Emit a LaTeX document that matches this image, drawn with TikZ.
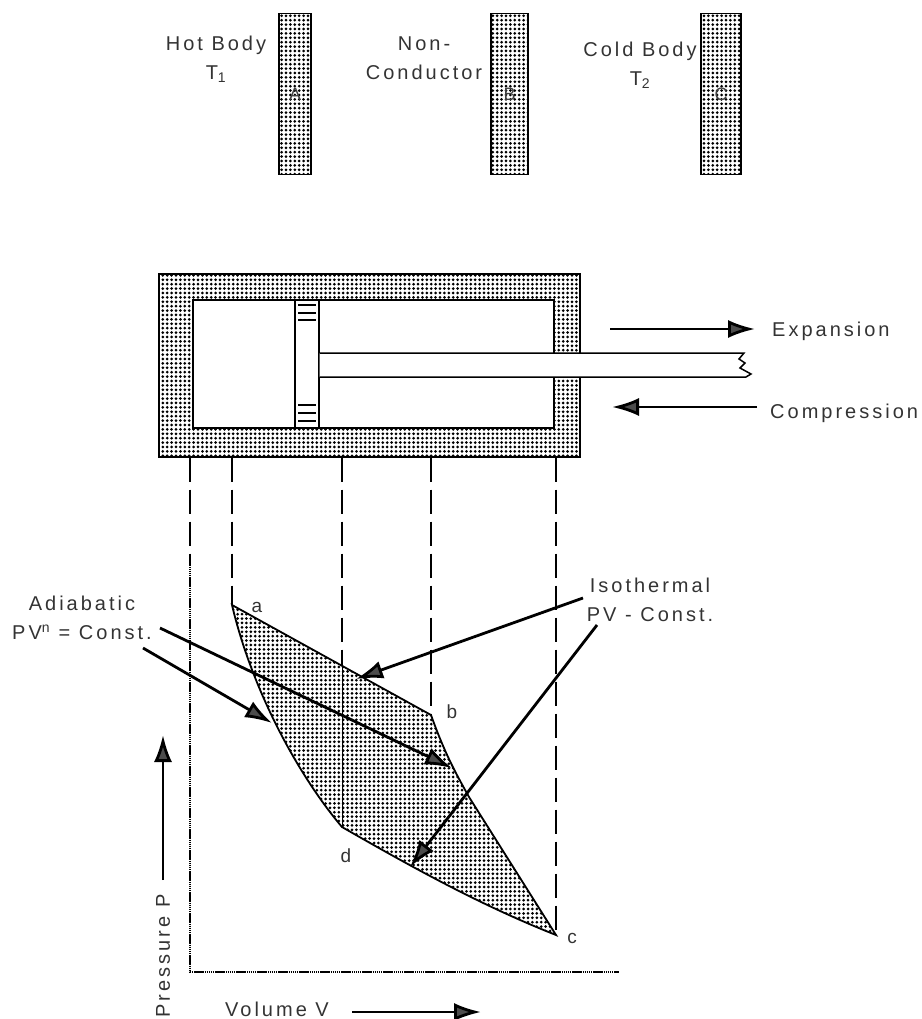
\documentclass[tikz,border=0pt]{standalone}
\usepackage{fontspec}
\setmainfont{Liberation Sans}[LetterSpace=15]
\usetikzlibrary{arrows.meta,patterns,positioning,calc}
\pgfdeclarepatternformonly{bodydots}{\pgfqpoint{-2.2pt}{-2.2pt}}{\pgfqpoint{2.2pt}{2.2pt}}{\pgfqpoint{4.4pt}{4.4pt}}{\pgfpathcircle{\pgfpointorigin}{1.5pt}\pgfusepath{fill}}
\tikzset{
bar/.style = {draw, line width=1.3pt, pattern=bodydots, rectangle, minimum height=161pt, inner sep=0pt, font=\fontsize{18}{20}\selectfont, text=black!75},
wall/.style = {draw, line width=1.3pt, rectangle, inner sep=0pt},
txt/.style = {align=center, inner sep=0pt, text=black!80, font=\fontsize{20}{29}\selectfont},
pt/.style = {inner sep=0pt, text=black!80, font=\fontsize{19}{20}\selectfont},
stroke/.style = {->, line width=2.8pt},
guide/.style = {line width=1.7pt, dash pattern=on 24pt off 8pt},
axis/.style = {line width=1.9pt, dash pattern=on 1.5pt off 0.6pt}
}
\begin{document}
\begin{tikzpicture}[x=1pt,y=-1pt,>={Latex[length=27pt,width=18pt,fill=black!70]}]
	\useasboundingbox (0,0) rectangle (921,1019);
	% bodies
	\node[bar, minimum width=32pt] (A) at (295,94) {A};
	\node[bar, minimum width=37pt] (B) at (509.5,94) {B};
	\node[bar, minimum width=40pt] (C) at (721,94) {C};
	\node[txt] (hot) at (216,59) {Hot Body\\T\textsubscript{1}};
	\node[txt] (non) at (424,58) {Non-\\Conductor};
	\node[txt] (cold) at (640,65) {Cold Body\\T\textsubscript{2}};
	% cylinder
	\node[wall, pattern=bodydots, minimum width=421pt, minimum height=183pt] (cyl) at (369.5,365.5) {};
	\node[wall, fill=white, minimum width=361pt, minimum height=128pt] (bore) at (373.5,364) {};
	\node[wall, fill=white, minimum width=24pt, minimum height=128pt] (piston) at (307,364) {};
	\foreach \y in {305,313,320,405,413,421}
		\draw[line width=1.2pt] (298,\y) -- (316,\y);
	\coordinate (rodt) at (piston.east |- 0,353);
	\coordinate (rodb) at (piston.east |- 0,377);
	\coordinate (rodte) at (744,353);
	\coordinate (rodbe) at (746,377);
	\fill[white] (rodt) -- (rodte) -- (rodbe) -- (rodb) -- cycle;
	\draw[line width=1.5pt] (rodt) -- (rodte) -- (739,359) -- (745,363) -- (740,368) -- (751,374) -- (rodbe) -- (rodb);
	% strokes
	\coordinate (exps) at (610,329);
	\coordinate (expe) at (755,329);
	\coordinate (coms) at (757,407);
	\coordinate (come) at (612,407);
	\draw[stroke] (exps) -- (expe);
	\draw[stroke] (coms) -- (come);
	\node[txt, anchor=west] (exp) at (772,331) {Expansion};
	\node[txt, anchor=west] (com) at (770,413) {Compression};
	% cycle
	\coordinate (a) at (232,605);
	\coordinate (b) at (431,715);
	\coordinate (c) at (556,935);
	\coordinate (d) at (342,827);
	\coordinate (kink) at (469,797);
	\coordinate (dtop) at (342,666);
	\draw[line width=1.8pt, pattern=bodydots] (a) -- (b) .. controls (446,757) and (458,777) .. (kink) -- (c) .. controls (480,905) and (410,866) .. (d) .. controls (298,775) and (252,690) .. (a) -- cycle;
	% guides
	\draw[guide] (cyl.south -| a) -- (a);
	\draw[guide] (cyl.south -| b) -- (b);
	\draw[guide] (cyl.south -| d) -- (dtop);
	\draw[line width=1pt] (dtop) -- (d);
	\draw[guide] (cyl.south -| c) -- (c);
	% axes
	\coordinate (org) at (190,972);
	\coordinate (xend) at (619,972);
	\coordinate (ybrk) at (190,556);
	\draw[guide] (cyl.south -| org) -- (ybrk);
	\draw[axis] (ybrk) -- (org) -- (xend);
	\node[txt, rotate=90] (pres) at (163,956) {Pressure P};
	\node[txt] (vol) at (277,1009) {Volume V};
	\coordinate (ps) at (163,880);
	\coordinate (pe) at (163,735);
	\coordinate (vs) at (352,1012);
	\coordinate (ve) at (481,1012);
	\draw[stroke] (ps) -- (pe);
	\draw[stroke] (vs) -- (ve);
	% curve labels
	\node[pt] (la) at (257,607) {a};
	\node[pt] (lb) at (452,712) {b};
	\node[pt] (lc) at (572,938) {c};
	\node[pt] (ld) at (346,856) {d};
	\node[txt] (adia) at (82,618) {Adiabatic\\PV\textsuperscript{n} = Const.};
	\node[txt] (iso) at (650,600) {Isothermal\\PV - Const.};
	\coordinate (a1) at (160,628);
	\coordinate (a1e) at (452,768);
	\coordinate (a2) at (143,648);
	\coordinate (a2e) at (272,723);
	\coordinate (i1) at (583,598);
	\coordinate (i1e) at (356,679);
	\coordinate (i2) at (597,625);
	\coordinate (i2e) at (410,867);
	\draw[stroke] (a1) -- (a1e);
	\draw[stroke] (a2) -- (a2e);
	\draw[stroke] (i1) -- (i1e);
	\draw[stroke] (i2) -- (i2e);
\end{tikzpicture}
\end{document}
